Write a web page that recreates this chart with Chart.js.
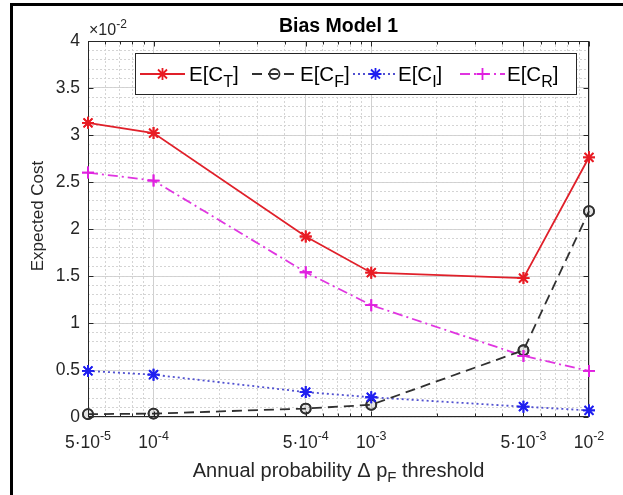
<!DOCTYPE html>
<html>
<head>
<meta charset="utf-8">
<script src="https://cdn.jsdelivr.net/npm/chart.js@4.4.0/dist/chart.umd.min.js"></script>
<style>
  html, body { margin: 0; padding: 0; background: #fff; }
  #wrap { width: 623px; height: 495px; position: relative; }
</style>
</head>
<body>
<div id="wrap"><canvas id="costChart"></canvas></div>
<script>
// annual probability thresholds (x) and expected costs (y, real units; axis shows x10^-2)
const thresholds = [5e-5, 1e-4, 5e-4, 1e-3, 5e-3, 1e-2];
const costTotal = [0.0313, 0.0302, 0.0192, 0.01535, 0.01478, 0.02763];
const costFailure = [0.0003, 0.00036, 0.0009, 0.0013, 0.0071, 0.0219];
const costInspection = [0.0049, 0.0045, 0.00265, 0.0021, 0.0011, 0.0007];
const costRepair = [0.0260, 0.02515, 0.0154, 0.0119, 0.0065, 0.0049];

const seriesNames = ["E[C", "E[C", "E[C", "E[C"];
const seriesSubs = ["T", "F", "I", "R"];

const xTickBases = ["5\u00b710", "10", "5\u00b710", "10", "5\u00b710", "10"];
const xTickExps = ["-5", "-4", "-4", "-3", "-3", "-2"];
const xMinorTicks = [6e-5, 7e-5, 8e-5, 9e-5, 2e-4, 3e-4, 4e-4, 5e-4, 6e-4, 7e-4, 8e-4, 9e-4,
                     2e-3, 3e-3, 4e-3, 5e-3, 6e-3, 7e-3, 8e-3, 9e-3];
const yTicks = [0, 0.005, 0.01, 0.015, 0.02, 0.025, 0.03, 0.035, 0.04];
const yMinorTicks = [];
for (let i = 0; i <= 40; i++) yMinorTicks.push(i / 1000);

const INK = "#262626";
const FONT = "'Liberation Sans', Arial, sans-serif";

function pts(values) {
  return thresholds.map((t, i) => ({ x: t, y: values[i] }));
}

function drawMarker(ctx, style, r, x, y, color) {
  ctx.save();
  ctx.strokeStyle = color;
  ctx.lineWidth = 1.8;
  ctx.setLineDash([]);
  ctx.beginPath();
  if (style === "circle") {
    ctx.arc(x, y, r, 0, Math.PI * 2);
  } else if (style === "cross") {
    ctx.moveTo(x - r, y); ctx.lineTo(x + r, y);
    ctx.moveTo(x, y - r); ctx.lineTo(x, y + r);
  } else {
    const d = r * 0.75;
    ctx.moveTo(x - r, y); ctx.lineTo(x + r, y);
    ctx.moveTo(x, y - r); ctx.lineTo(x, y + r);
    ctx.moveTo(x - d, y - d); ctx.lineTo(x + d, y + d);
    ctx.moveTo(x - d, y + d); ctx.lineTo(x + d, y - d);
  }
  ctx.stroke();
  ctx.restore();
}

// draws runs of text with different size / vertical offset, left to right
function richText(ctx, parts, x, y, align) {
  let w = 0;
  parts.forEach(p => { ctx.font = p.font; w += ctx.measureText(p.t).width; });
  let cx = align === "center" ? x - w / 2 : x;
  ctx.textAlign = "left";
  ctx.textBaseline = "alphabetic";
  parts.forEach(p => {
    ctx.font = p.font;
    ctx.fillText(p.t, cx, y + (p.dy || 0));
    cx += ctx.measureText(p.t).width;
  });
}

const matlabDecor = {
  id: "matlabDecor",
  beforeDatasetsDraw(chart) {
    const { ctx, chartArea: a, scales } = chart;
    const L = Math.round(a.left) + 0.5, R = Math.round(a.right) - 0.5;
    const T = Math.round(a.top) + 0.5, B = Math.round(a.bottom) - 0.5;
    ctx.save();
    ctx.strokeStyle = INK;
    ctx.lineWidth = 1;
    ctx.strokeRect(L, T, R - L, B - T);
    ctx.beginPath();
    thresholds.forEach(v => {
      const x = Math.round(scales.x.getPixelForValue(v)) + 0.5;
      ctx.moveTo(x, B); ctx.lineTo(x, B - 5);
      ctx.moveTo(x, T); ctx.lineTo(x, T + 5);
    });
    xMinorTicks.forEach(v => {
      const x = Math.round(scales.x.getPixelForValue(v)) + 0.5;
      ctx.moveTo(x, B); ctx.lineTo(x, B - 3);
      ctx.moveTo(x, T); ctx.lineTo(x, T + 3);
    });
    yTicks.forEach(v => {
      const y = Math.round(scales.y.getPixelForValue(v)) + 0.5;
      ctx.moveTo(L, y); ctx.lineTo(L + 5, y);
      ctx.moveTo(R, y); ctx.lineTo(R - 5, y);
    });
    ctx.stroke();
    ctx.restore();
  },
  afterDraw(chart) {
    const { ctx, chartArea: a, scales } = chart;
    const mid = (a.left + a.right) / 2;
    ctx.save();

    // figure frame (left and top edges of the screenshot)
    ctx.fillStyle = "#000";
    ctx.fillRect(10, 3, 3, 492);
    ctx.fillRect(10, 3, 613, 3);

    // title
    ctx.fillStyle = "#000";
    richText(ctx, [{ t: "Bias Model 1", font: "bold 19.5px " + FONT }], mid, 32, "center");

    // exponent label
    ctx.fillStyle = INK;
    richText(ctx, [
      { t: "\u00d710", font: "16px " + FONT },
      { t: "-2", font: "12px " + FONT, dy: -7 }
    ], a.left + 1, 35, "left");

    // x tick labels
    thresholds.forEach((v, i) => {
      richText(ctx, [
        { t: xTickBases[i], font: "17.5px " + FONT },
        { t: xTickExps[i], font: "12.5px " + FONT, dy: -8 }
      ], scales.x.getPixelForValue(v), 448, "center");
    });

    // x axis title
    richText(ctx, [
      { t: "Annual probability \u0394 p", font: "20px " + FONT },
      { t: "F", font: "15px " + FONT, dy: 5 },
      { t: " threshold", font: "20px " + FONT }
    ], mid, 477, "center");

    // y axis title
    ctx.save();
    ctx.translate(38, 216);
    ctx.rotate(-Math.PI / 2);
    ctx.font = "17px " + FONT;
    ctx.textAlign = "center";
    ctx.textBaseline = "middle";
    ctx.fillText("Expected Cost", 0, 0);
    ctx.restore();

    // legend box
    ctx.fillStyle = "#fff";
    ctx.fillRect(135, 53, 442, 41);
    ctx.strokeStyle = INK;
    ctx.lineWidth = 1;
    ctx.strokeRect(135.5, 53.5, 441, 41);
    const sampleX = [140, 252, 353, 460];
    const textX = [189, 300, 398, 507];
    const ly = 74;
    chart.data.datasets.forEach((ds, i) => {
      ctx.save();
      ctx.strokeStyle = ds.borderColor;
      ctx.lineWidth = ds.borderWidth;
      ctx.setLineDash(ds.borderDash || []);
      ctx.beginPath();
      ctx.moveTo(sampleX[i], ly);
      ctx.lineTo(sampleX[i] + 45, ly);
      ctx.stroke();
      ctx.restore();
      drawMarker(ctx, ds.pointStyle, ds.pointRadius, sampleX[i] + 22.5, ly, ds.pointBorderColor);
      ctx.fillStyle = "#000";
      richText(ctx, [
        { t: seriesNames[i], font: "20.5px " + FONT },
        { t: seriesSubs[i], font: "16px " + FONT, dy: 6 },
        { t: "]", font: "20.5px " + FONT }
      ], textX[i], ly + 7, "left");
    });
    ctx.restore();
  }
};

// custom point drawing so the markers look like MATLAB's
const markerPlugin = {
  id: "matlabMarkers",
  afterDatasetsDraw(chart) {
    const { ctx } = chart;
    chart.data.datasets.forEach((ds, i) => {
      chart.getDatasetMeta(i).data.forEach(p => {
        drawMarker(ctx, ds.pointStyle, ds.pointRadius, p.x, p.y, ds.pointBorderColor);
      });
    });
  }
};

new Chart(document.getElementById("costChart"), {
  type: "line",
  data: {
    datasets: [
      {
        label: "E[C_T]", data: pts(costTotal),
        borderColor: "#e0202a", borderWidth: 1.8,
        pointStyle: "star", pointRadius: 6, pointBorderColor: "#e81c24"
      },
      {
        label: "E[C_F]", data: pts(costFailure),
        borderColor: "#303030", borderWidth: 1.8, borderDash: [10, 6],
        pointStyle: "circle", pointRadius: 5, pointBorderColor: "#303030"
      },
      {
        label: "E[C_I]", data: pts(costInspection),
        borderColor: "#5050d0", borderWidth: 1.8, borderDash: [2, 3],
        pointStyle: "star", pointRadius: 6, pointBorderColor: "#1f1ff0"
      },
      {
        label: "E[C_R]", data: pts(costRepair),
        borderColor: "#e035e0", borderWidth: 1.8, borderDash: [10, 4, 2, 4],
        pointStyle: "cross", pointRadius: 6, pointBorderColor: "#e020e0"
      }
    ].map(d => Object.assign(d, { fill: false, tension: 0, clip: false }))
  },
  options: {
    responsive: true,
    maintainAspectRatio: false,
    animation: false,
    layout: { padding: { left: 0, right: 34, top: 41, bottom: 0 } },
    elements: { point: { radius: 0, hoverRadius: 0 } },
    plugins: { legend: { display: false }, title: { display: false }, tooltip: { enabled: false } },
    scales: {
      x: {
        type: "logarithmic", min: 5e-5, max: 1e-2,
        afterBuildTicks: s => { s.ticks = thresholds.map(v => ({ value: v })); },
        afterFit: s => { s.height = 78; },
        ticks: { display: false },
        grid: { color: "#d0d0d0", lineWidth: 1, drawTicks: false },
        border: { display: false }
      },
      xMinor: {
        type: "logarithmic", position: "bottom", min: 5e-5, max: 1e-2,
        afterBuildTicks: s => { s.ticks = xMinorTicks.map(v => ({ value: v })); },
        afterFit: s => { s.height = 0; },
        ticks: { display: false },
        grid: { color: "#d4d4d4", lineWidth: 1, drawTicks: false },
        border: { display: false, dash: [2, 2] }
      },
      y: {
        min: 0, max: 0.04,
        afterBuildTicks: s => { s.ticks = yTicks.map(v => ({ value: v })); },
        afterFit: s => { s.width = 88; },
        ticks: {
          color: INK, padding: 8,
          font: { family: FONT, size: 17.5 },
          callback: v => String(Math.round(v * 1000) / 10)
        },
        grid: { color: "#d0d0d0", lineWidth: 1, drawTicks: false },
        border: { display: false }
      },
      yMinor: {
        position: "left", min: 0, max: 0.04,
        afterBuildTicks: s => { s.ticks = yMinorTicks.map(v => ({ value: v })); },
        afterFit: s => { s.width = 0; },
        ticks: { display: false },
        grid: { color: "#d4d4d4", lineWidth: 1, drawTicks: false },
        border: { display: false, dash: [2, 2] }
      }
    }
  },
  plugins: [markerPlugin, matlabDecor]
});
</script>
</body>
</html>
